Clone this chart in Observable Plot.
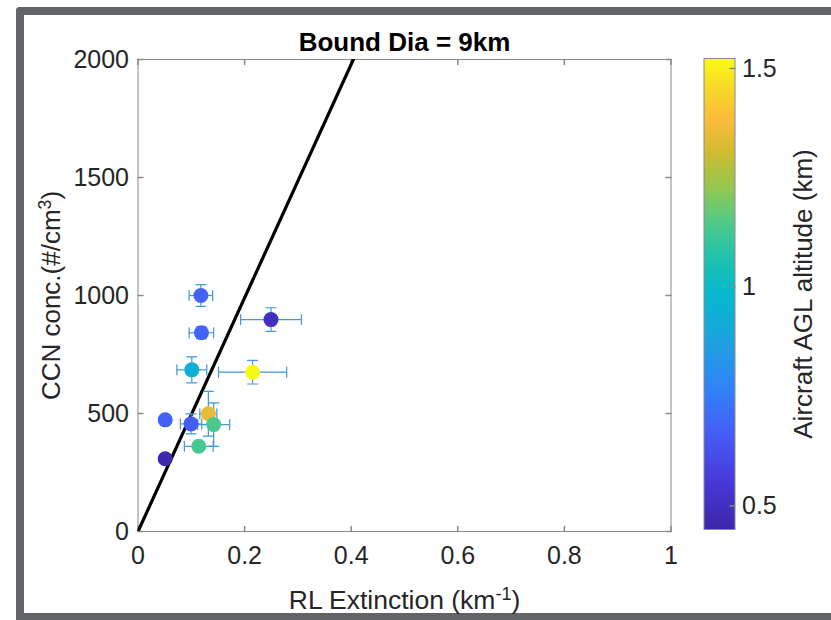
<!DOCTYPE html>
<html><head><meta charset="utf-8">
<script src="https://cdn.jsdelivr.net/npm/d3@7"></script>
<script src="https://cdn.jsdelivr.net/npm/@observablehq/plot@0.6"></script>
<style>
html,body{margin:0;padding:0;background:#fff;}
#fig{position:relative;width:831px;height:620px;overflow:hidden;background:#fff;font-family:"Liberation Sans",Arial,Helvetica,sans-serif;}
#border{position:absolute;left:16px;top:7px;right:-20px;bottom:0;border-left:8px solid #636467;border-top:8px solid #636467;border-bottom:7px solid #636467;border-radius:4px 0 0 0;}
#fig svg{position:absolute;left:0;top:0;}
</style></head><body><div id="fig"><div id="border"></div></div>
<script>
// ---- data ----
const extinction = [0.118, 0.2495, 0.119, 0.101, 0.215, 0.051, 0.132, 0.0995, 0.142, 0.114, 0.051];
const ccnConc    = [1000, 898, 842, 685, 675, 473, 499, 456, 453, 361, 308];
const altitude   = [0.68, 0.50, 0.68, 0.95, 1.52, 0.68, 1.35, 0.66, 1.14, 1.13, 0.46];
const extErr     = [0.022, 0.057, 0.023, 0.028, 0.064, 0, 0.016, 0.020, 0.030, 0.027, 0];
const ccnErr     = [46, 50, 25, 55, 50, 0, 95, 42, 92, 15, 0];
const fitSlope   = 4950;            // CCN per km^-1 (black line through origin)
const xTicks     = [0, 0.2, 0.4, 0.6, 0.8, 1];
const yTicks     = [0, 500, 1000, 1500, 2000];
const altTicks   = [0.5, 1, 1.5];
const altDomain  = [0.446, 1.523];
const titleText  = "Bound Dia = 9km";
const xLabel     = "RL Extinction (km\u207B\u00B9)";
const yLabel     = "CCN conc.(#/cm\u00B3)";
const cLabel     = "Aircraft AGL altitude (km)";
// parula-like colormap stops
const parulaStops = [
  [0.00, "#3e26a8"], [0.10, "#4739d9"], [0.20, "#465cf5"], [0.30, "#3183f8"],
  [0.40, "#1ea2e0"], [0.50, "#05b8cd"], [0.58, "#22c2ad"], [0.65, "#4fc98a"],
  [0.72, "#8fc853"], [0.80, "#d0bb31"], [0.87, "#fbbc3c"], [0.93, "#f8d52b"], [1.00, "#f9fb15"]
];
const parula = d3.scaleLinear(parulaStops.map(d => d[0]), parulaStops.map(d => d[1])).interpolate(d3.interpolateRgb).clamp(true);

const points = extinction.map((x, i) => ({x, y: ccnConc[i], alt: altitude[i], xe: extErr[i], ye: ccnErr[i]}));
const xeP = points.filter(d => d.xe > 0);
const yeP = points.filter(d => d.ye > 0);
const fitLine = [0, yTicks[yTicks.length - 1]].map(c => ({x: c / fitSlope, y: c}));

const font = "'Liberation Sans', Arial, Helvetica, sans-serif";
const axisGray = "#8a8a8a";
const ebColor = "#3d9ad8";
const seg = {draw(ctx, l) { ctx.moveTo(0, 0); ctx.lineTo(0, -l); }};
const colorOpts = {type: "linear", domain: altDomain, interpolate: parula};
const tickFmt = d => String(d);

const main = Plot.plot({
  width: 831, height: 620,
  marginLeft: 137.5, marginRight: 160.5, marginTop: 59, marginBottom: 89,
  style: {background: "transparent", color: "#262626", fontFamily: font, overflow: "visible"},
  x: {domain: [0, 1]}, y: {domain: [0, 2000]}, color: colorOpts,
  marks: [
    Plot.frame({stroke: axisGray}),
    Plot.axisX(xTicks, {tickSize: 0, tickPadding: 15, fontSize: 25, tickFormat: tickFmt, label: null}),
    Plot.axisY(yTicks, {tickSize: 0, tickPadding: 9, fontSize: 25, tickFormat: tickFmt, label: null}),
    Plot.vector(xTicks, {x: d => d, frameAnchor: "bottom", rotate: 0, anchor: "start", length: 5, shape: seg, stroke: axisGray}),
    Plot.vector(xTicks, {x: d => d, frameAnchor: "top", rotate: 180, anchor: "start", length: 5, shape: seg, stroke: axisGray}),
    Plot.vector(yTicks, {y: d => d, frameAnchor: "left", rotate: 90, anchor: "start", length: 5, shape: seg, stroke: axisGray}),
    Plot.vector(yTicks, {y: d => d, frameAnchor: "right", rotate: -90, anchor: "start", length: 5, shape: seg, stroke: axisGray}),
    Plot.line(fitLine, {x: "x", y: "y", stroke: "black", strokeWidth: 3.2, clip: true}),
    Plot.ruleY(xeP, {y: "y", x1: d => d.x - d.xe, x2: d => d.x + d.xe, stroke: ebColor, strokeWidth: 1.2}),
    Plot.ruleX(yeP, {x: "x", y1: d => d.y - d.ye, y2: d => d.y + d.ye, stroke: ebColor, strokeWidth: 1.2}),
    Plot.vector(xeP, {x: d => d.x - d.xe, y: "y", rotate: 0, anchor: "middle", length: 10, shape: seg, stroke: ebColor, strokeWidth: 1.2}),
    Plot.vector(xeP, {x: d => d.x + d.xe, y: "y", rotate: 0, anchor: "middle", length: 10, shape: seg, stroke: ebColor, strokeWidth: 1.2}),
    Plot.vector(yeP, {x: "x", y: d => d.y - d.ye, rotate: 90, anchor: "middle", length: 10, shape: seg, stroke: ebColor, strokeWidth: 1.2}),
    Plot.vector(yeP, {x: "x", y: d => d.y + d.ye, rotate: 90, anchor: "middle", length: 10, shape: seg, stroke: ebColor, strokeWidth: 1.2}),
    Plot.dot(points, {x: "x", y: "y", r: 7.5, fill: "alt", stroke: null}),
    Plot.text([titleText], {frameAnchor: "top", lineAnchor: "middle", dy: -17, fontSize: 26, fontWeight: "bold", fill: "black"}),
    Plot.text([xLabel], {frameAnchor: "bottom", lineAnchor: "middle", dy: 69, fontSize: 26.5, fill: "#262626"}),
    Plot.text([yLabel], {frameAnchor: "left", textAnchor: "middle", lineAnchor: "middle", dx: -86, rotate: -90, fontSize: 26, fill: "#262626"})
  ]
});

const cbar = Plot.plot({
  width: 831, height: 620,
  marginLeft: 703.5, marginRight: 96.5, marginTop: 58, marginBottom: 91,
  style: {background: "transparent", color: "#262626", fontFamily: font, overflow: "visible"},
  x: {domain: [0, 1], axis: null}, y: {domain: altDomain, axis: null}, color: colorOpts,
  marks: [
    Plot.raster({x1: 0, x2: 1, y1: altDomain[0], y2: altDomain[1], fill: (x, y) => y}),
    Plot.frame({stroke: axisGray}),
    Plot.axisY(altTicks, {anchor: "right", tickSize: 0, tickPadding: 7, fontSize: 25, tickFormat: tickFmt, label: null}),
    Plot.vector(altTicks, {y: d => d, frameAnchor: "right", rotate: -90, anchor: "start", length: 5, shape: seg, stroke: axisGray}),
    Plot.text([cLabel], {frameAnchor: "right", textAnchor: "middle", lineAnchor: "middle", dx: 69, rotate: -90, fontSize: 26, fill: "#262626"})
  ]
});

const fig = document.getElementById("fig");
fig.appendChild(main);
fig.appendChild(cbar);

// superscripts in axis labels
function superscript(svg, full, base, sup, tail) {
  for (const t of svg.querySelectorAll("text")) {
    const target = t.querySelector("tspan") || t;
    if (t.textContent === full) {
      target.textContent = "";
      const ns = "http://www.w3.org/2000/svg";
      const a = document.createElementNS(ns, "tspan"); a.textContent = base;
      const b = document.createElementNS(ns, "tspan"); b.textContent = sup;
      b.setAttribute("dy", "-0.5em"); b.setAttribute("font-size", "0.68em");
      const c = document.createElementNS(ns, "tspan"); c.textContent = tail;
      c.setAttribute("dy", "0.34em");
      target.append(a, b, c);
    }
  }
}
superscript(main, xLabel, "RL Extinction (km", "-1", ")");
superscript(main, yLabel, "CCN conc.(#/cm", "3", ")");
</script></body></html>
